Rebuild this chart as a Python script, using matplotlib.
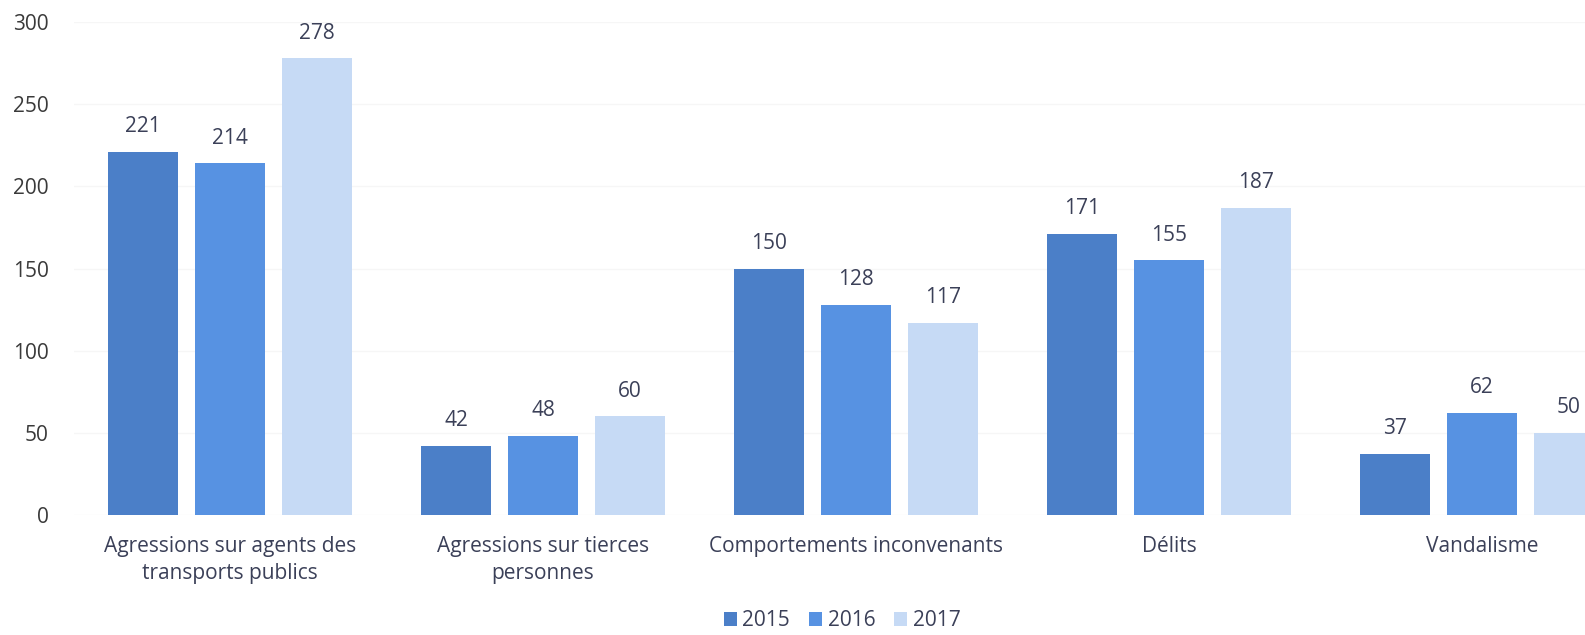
import matplotlib
matplotlib.use("Agg")
import matplotlib.pyplot as plt
import numpy as np

categories = ["Agressions sur agents des\ntransports publics",
              "Agressions sur tierces\npersonnes",
              "Comportements inconvenants",
              "Délits",
              "Vandalisme"]
years = ["2015", "2016", "2017"]
v2015 = [221, 42, 150, 171, 37]
v2016 = [214, 48, 128, 155, 62]
v2017 = [278, 60, 117, 187, 50]
yticks = [0, 50, 100, 150, 200, 250, 300]

colors = ["#4b7fc8", "#5792e2", "#c6daf5"]
text_col = "#3b4058"
plt.rcParams['font.family'] = ['Open Sans', 'DejaVu Sans']

W, H = 1585, 635
fig = plt.figure(figsize=(W/100, H/100), dpi=100)
left = 73.5 / W
bottom = (H - 515) / H
top = (H - 22.2) / H
ax = fig.add_axes([left, bottom, 1 - left, top - bottom])

group_px = 313.0
x = np.arange(len(categories))
bw = 70 / group_px
pitch = 87 / group_px
series = [v2015, v2016, v2017]
for i, (vals, c, yr) in enumerate(zip(series, colors, years)):
    pos = x + (i - 1) * pitch
    ax.bar(pos, vals, width=bw, color=c, label=yr, zorder=2)
    for p, v in zip(pos, vals):
        ax.text(p, v + 9, str(v), ha="center", va="bottom", fontsize=15,
                color=text_col)

ax.set_xlim(-0.5, (W - 73.5) / group_px - 0.5)
ax.set_ylim(0, 300)
ax.set_yticks(yticks)
ax.set_yticklabels([str(t) for t in yticks], fontsize=15, color="#3a3a3a")
ax.tick_params(axis="y", length=0, pad=18)
ax.set_xticks(x)
ax.set_xticklabels(categories, fontsize=15, color=text_col, linespacing=1.4)
ax.tick_params(axis="x", length=0, pad=15)
for s in ax.spines.values():
    s.set_visible(False)
ax.yaxis.grid(True, color="#f6f6f6", linewidth=1, zorder=0)
ax.set_axisbelow(True)

fig.legend(loc="center", bbox_to_anchor=(842 / W, (H - 621) / H), ncol=3,
           frameon=False, fontsize=15, handlelength=0.65, handleheight=0.65,
           handletextpad=0.25, columnspacing=0.9, labelcolor=text_col)

fig.savefig("out.png", dpi=100)
